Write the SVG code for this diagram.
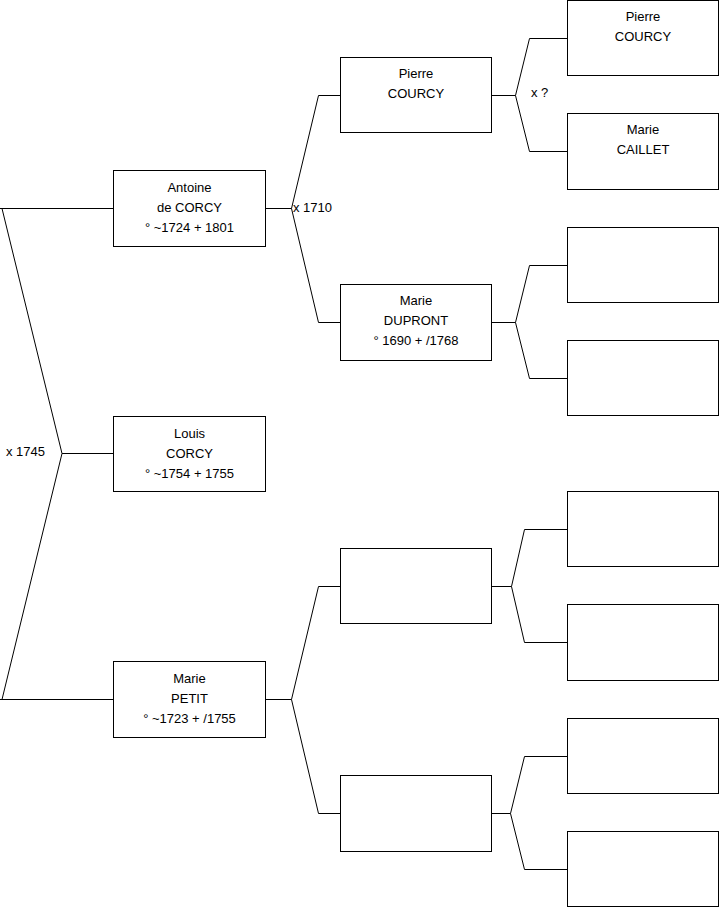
<svg xmlns="http://www.w3.org/2000/svg" width="719" height="908" viewBox="0 0 719 908">
<style>
.box{fill:#fff;stroke:#000;stroke-width:1}
.ln{fill:none;stroke:#000;stroke-width:1}
text{font-family:"Liberation Sans",Arial,sans-serif;font-size:13px;fill:#000}
.c{text-anchor:middle}
</style>
<rect width="719" height="908" fill="#fff"/>
<g id="connectors">
<path class="ln" d="M0 208.5H113.5M0 699.5H113.5M2 208.5L62 453.5L2 699.5M62 453.5H113.5"/>
<path class="ln" d="M265.5 208.5H291.5M291.5 208.5L318.5 95.5H340.5M291.5 208.5L318.5 322.5H340.5"/>
<path class="ln" d="M265.5 699.5H291.5M291.5 699.5L318.5 586.5H340.5M291.5 699.5L318.5 813.5H340.5"/>
<path class="ln" d="M491.5 95.5H515.5M515.5 95.5L529.5 38.5H567.5M515.5 95.5L529.5 151.5H567.5"/>
<path class="ln" d="M491.5 322.5H515.5M515.5 322.5L529.5 265.5H567.5M515.5 322.5L529.5 378.5H567.5"/>
<path class="ln" d="M491.5 586.5H511.5M511.5 586.5L524.5 529.5H567.5M511.5 586.5L524.5 642.5H567.5"/>
<path class="ln" d="M491.5 813.5H510.5M510.5 813.5L524.5 756.5H567.5M510.5 813.5L524.5 869.5H567.5"/>
<text x="6" y="456">x 1745</text>
<text x="293" y="212">x 1710</text>
<text x="531" y="97">x ?</text>
</g>
<g id="antoine"><rect class="box" x="113.5" y="170.5" width="152" height="76"/>
<text class="c" x="189.5" y="191.5">Antoine</text><text class="c" x="189.5" y="211.5">de CORCY</text><text class="c" x="189.5" y="231.5">° ~1724 + 1801</text></g>
<g id="louis"><rect class="box" x="113.5" y="416.5" width="152" height="75"/>
<text class="c" x="189.5" y="437.5">Louis</text><text class="c" x="189.5" y="457.5">CORCY</text><text class="c" x="189.5" y="477.5">° ~1754 + 1755</text></g>
<g id="marie-petit"><rect class="box" x="113.5" y="661.5" width="152" height="76"/>
<text class="c" x="189.5" y="682.5">Marie</text><text class="c" x="189.5" y="702.5">PETIT</text><text class="c" x="189.5" y="722.5">° ~1723 + /1755</text></g>
<g id="pierre-courcy"><rect class="box" x="340.5" y="57.5" width="151" height="75"/>
<text class="c" x="416" y="78">Pierre</text><text class="c" x="416" y="98">COURCY</text></g>
<g id="marie-dupront"><rect class="box" x="340.5" y="284.5" width="151" height="76"/>
<text class="c" x="416" y="305">Marie</text><text class="c" x="416" y="325">DUPRONT</text><text class="c" x="416" y="345">° 1690 + /1768</text></g>
<g id="gen2-3"><rect class="box" x="340.5" y="548.5" width="151" height="75"/></g>
<g id="gen2-4"><rect class="box" x="340.5" y="775.5" width="151" height="76"/></g>
<g id="pierre-courcy-sr"><rect class="box" x="567.5" y="0.5" width="151" height="75"/>
<text class="c" x="643" y="21">Pierre</text><text class="c" x="643" y="41">COURCY</text></g>
<g id="marie-caillet"><rect class="box" x="567.5" y="113.5" width="151" height="76"/>
<text class="c" x="643" y="134">Marie</text><text class="c" x="643" y="154">CAILLET</text></g>
<g id="gen3-3"><rect class="box" x="567.5" y="227.5" width="151" height="75"/></g>
<g id="gen3-4"><rect class="box" x="567.5" y="340.5" width="151" height="75"/></g>
<g id="gen3-5"><rect class="box" x="567.5" y="491.5" width="151" height="75"/></g>
<g id="gen3-6"><rect class="box" x="567.5" y="604.5" width="151" height="76"/></g>
<g id="gen3-7"><rect class="box" x="567.5" y="718.5" width="151" height="75"/></g>
<g id="gen3-8"><rect class="box" x="567.5" y="831.5" width="151" height="75"/></g>
</svg>
